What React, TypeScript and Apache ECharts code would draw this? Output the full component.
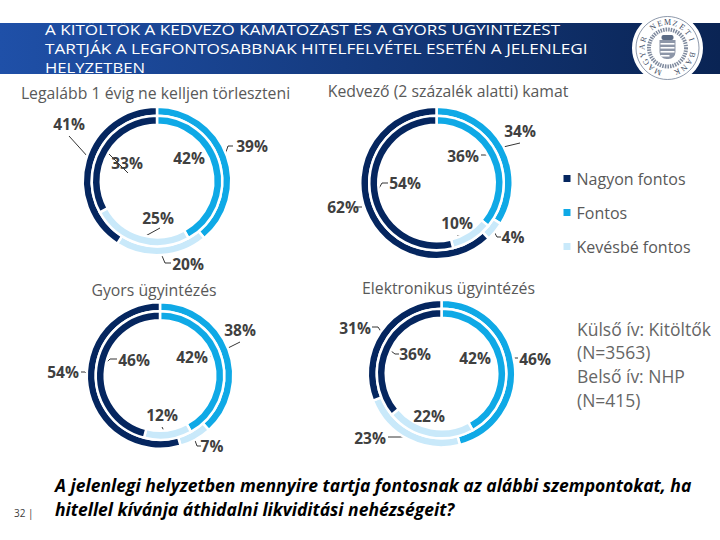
import React, { useEffect, useRef } from "react";
import * as echarts from "echarts";

const categories = ["Fontos", "Kevésbé fontos", "Nagyon fontos"];
const legendOrder = ["Nagyon fontos", "Fontos", "Kevésbé fontos"];
const COLORS = ["#0FA9E6", "#C9E9FA", "#05265F"];

const chartTitles = [
  "Legalább 1 évig ne kelljen törleszteni",
  "Kedvező (2 százalék alatti) kamat",
  "Gyors ügyintézés",
  "Elektronikus ügyintézés",
];
const outerValues = [
  [39, 20, 41],
  [34, 4, 62],
  [38, 7, 54],
  [46, 23, 31],
];
const innerValues = [
  [42, 25, 33],
  [36, 10, 54],
  [42, 12, 46],
  [42, 22, 36],
];

const titleLines = [
  "A KITÖLTŐK A KEDVEZŐ KAMATOZÁST ÉS A GYORS ÜGYINTÉZÉST",
  "TARTJÁK A LEGFONTOSABBNAK HITELFELVÉTEL ESETÉN A JELENLEGI",
  "HELYZETBEN",
];
const noteLines = ["Külső ív: Kitöltők", "(N=3563)", "Belső ív: NHP", "(N=415)"];
const questionLines = [
  "A jelenlegi helyzetben mennyire tartja fontosnak az alábbi szempontokat, ha",
  "hitellel kívánja áthidalni likviditási nehézségeit?",
];
const pageLabel = "32 |";
const sealText = "MAGYAR NEMZETI BANK";

// layout of each doughnut
const centers: [number, number][] = [
  [157, 181],
  [436.5, 183],
  [160, 375.5],
  [441.5, 373.5],
];
const outerRadius = [73, 75, 72, 72.5];

// label anchor (centre) and leader line for [ring][slice] per doughnut
type Lab = { x: number; y: number; line: number[][] };
const outerLabels: Lab[][] = [
  [
    { x: 252, y: 146, line: [[224, 158], [228, 146], [233, 146]] },
    { x: 188, y: 264, line: [[160, 251], [165, 263], [171, 263]] },
    { x: 69, y: 124, line: [[88, 157], [69, 136], [69, 136]] },
  ],
  [
    { x: 520, y: 131, line: [[499, 148], [520, 143], [520, 143]] },
    { x: 513, y: 237, line: [[492, 228], [497, 237], [501, 237]] },
    { x: 343, y: 207, line: [[362, 207], [357, 207], [357, 207]] },
  ],
  [
    { x: 240, y: 330, line: [[224, 350], [240, 342], [240, 342]] },
    { x: 212, y: 446, line: [[193, 435], [197, 446], [201, 446]] },
    { x: 63, y: 372, line: [[88, 375], [85, 372], [81, 372]] },
  ],
  [
    { x: 535, y: 359, line: [[510, 365], [512, 358], [518, 358]] },
    { x: 370, y: 438, line: [[412, 436], [400, 437], [388, 437]] },
    { x: 355, y: 328, line: [[382, 333], [378, 327], [372, 327]] },
  ],
];
const innerLabels: Lab[][] = [
  [
    { x: 189, y: 158, line: [[216, 166], [212, 157], [207, 157]] },
    { x: 158, y: 218, line: [[140, 239], [160, 228], [160, 228]] },
    { x: 127, y: 163, line: [[108, 153], [128, 173], [128, 173]] },
  ],
  [
    { x: 463, y: 156, line: [[493, 158], [488, 155], [481, 155]] },
    { x: 457, y: 223, line: [[457, 236], [470, 235], [470, 235]] },
    { x: 405, y: 183, line: [[378, 190], [382, 183], [388, 183]] },
  ],
  [
    { x: 192, y: 357, line: [[217, 362], [214, 356], [210, 356]] },
    { x: 162, y: 415, line: [[166, 435], [162, 427], [162, 427]] },
    { x: 134, y: 360, line: [[103, 366], [110, 359], [117, 359]] },
  ],
  [
    { x: 475, y: 358, line: [[501, 366], [498, 356], [493, 356]] },
    { x: 429, y: 416, line: [[429, 433], [429, 428], [429, 428]] },
    { x: 415, y: 354, line: [[391, 351], [395, 354], [399, 354]] },
  ],
];

function ringSeries(i: number, values: number[], labels: Lab[], radius: [number, number]) {
  return {
    type: "pie",
    center: centers[i],
    radius,
    startAngle: 90,
    clockwise: true,
    silent: true,
    itemStyle: { borderColor: "#ffffff", borderWidth: 2.5 },
    label: {
      show: true,
      position: "outside",
      formatter: "{c}%",
      fontFamily: "Open Sans",
      fontSize: 15.5,
      fontWeight: "bold",
      color: "#404040",
      overflow: "none",
      width: 60,
    },
    labelLine: { show: true, lineStyle: { color: "#000000", width: 0.8 } },
    labelLayout: (p: any) => {
      const lab = labels[p.dataIndex];
      return {
        x: lab.x,
        y: lab.y,
        align: "center",
        verticalAlign: "middle",
        labelLinePoints: lab.line,
      };
    },
    data: values.map((v, k) => ({
      name: categories[k],
      value: v,
      itemStyle: { color: COLORS[k] },
    })),
  };
}

export default function App() {
  const ref = useRef<HTMLDivElement>(null);
  useEffect(() => {
    if (!ref.current) return;
    const chart = echarts.init(ref.current, undefined, { renderer: "svg" });
    const series: any[] = [];
    centers.forEach((_, i) => {
      const R = outerRadius[i];
      series.push(ringSeries(i, outerValues[i], outerLabels[i], [R - 7.75, R + 1.25]));
      series.push(ringSeries(i, innerValues[i], innerLabels[i], [R - 16.75, R - 7.75]));
    });

    const sx = 667.5;
    const sy = 48;
    const seal: any[] = [
      { type: "circle", shape: { cx: sx, cy: sy, r: 35.5 }, style: { fill: "#fff" } },
      { type: "circle", shape: { cx: sx, cy: sy, r: 31.5 }, style: { fill: "none", stroke: "#5b6b85", lineWidth: 0.7 } },
      { type: "circle", shape: { cx: sx, cy: sy, r: 18.5 }, style: { fill: "none", stroke: "#7f8a9e", lineWidth: 4, lineDash: [1.5, 1] } },
      { type: "rect", shape: { x: sx - 8, y: sy - 8, width: 16, height: 19, r: [0, 0, 7, 7] }, style: { fill: "#8d96a8" } },
      { type: "rect", shape: { x: sx - 6, y: sy - 13, width: 12, height: 5, r: 2 }, style: { fill: "#5b6b85" } },
      ...[0, 1, 2, 3].map((k) => ({
        type: "rect",
        shape: { x: sx - 7, y: sy - 5 + k * 4, width: 14 - (k === 3 ? 5 : 0), height: 1.6 },
        style: { fill: "#ffffff" },
      })),
    ];
    const chars = sealText.split("");
    chars.forEach((c, k) => {
      // start bottom-left, run clockwise over the top to bottom-right
      const a = (-158 + (k * 316) / (chars.length - 1)) * (Math.PI / 180);
      seal.push({
        type: "text",
        x: sx + 25.5 * Math.sin(a),
        y: sy - 25.5 * Math.cos(a),
        rotation: -a,
        style: { text: c, fill: "#3c4a63", font: "8px 'Liberation Serif'", align: "center", verticalAlign: "middle" },
      });
    });

    chart.setOption({
      animation: false,
      backgroundColor: "#ffffff",
      title: chartTitles.map((t, i) => ({
        text: t,
        left: [150.5, 443, 149, 443.5][i],
        top: [80, 78, 277, 275][i],
        textAlign: "center",
        textStyle: {
          fontFamily: "Open Sans",
          fontSize: 15.8,
          fontWeight: "normal",
          color: "#595959",
        },
      })),
      legend: {
        orient: "vertical",
        left: 556.5,
        top: 165.5,
        itemWidth: 9,
        itemHeight: 9,
        itemGap: 18,
        icon: "rect",
        selectedMode: false,
        data: legendOrder,
        textStyle: { fontFamily: "Open Sans", fontSize: 16, color: "#595959" },
      },
      series,
      graphic: [
        {
          type: "rect",
          z: -1,
          shape: { x: 0, y: 23, width: 720, height: 51 },
          style: {
            fill: new echarts.graphic.LinearGradient(0, 0, 1, 0, [
              { offset: 0, color: "#1F50A8" },
              { offset: 1, color: "#0A2454" },
            ]),
          },
        },
        ...titleLines.map((t, i) => ({
          type: "text",
          x: 45,
          y: [29, 48, 67][i],
          scaleX: [1.139, 1.145, 1.11][i],
          style: {
            text: t,
            fill: "#ffffff",
            font: "15px 'Open Sans'",
            verticalAlign: "middle",
          },
        })),
        ...seal,
        ...noteLines.map((t, i) => ({
          type: "text",
          x: 577,
          y: [329, 352, 376, 400][i],
          style: { text: t, fill: "#666666", font: "17.5px 'Open Sans'", verticalAlign: "middle" },
        })),
        ...questionLines.map((t, i) => ({
          type: "text",
          x: 55,
          y: [485, 509][i],
          style: {
            text: t,
            fill: "#000000",
            font: "italic bold 17.5px 'Open Sans'",
            verticalAlign: "middle",
          },
        })),
        {
          type: "text",
          x: 14,
          y: 513,
          style: { text: pageLabel, fill: "#404040", font: "10px 'Open Sans'", verticalAlign: "middle" },
        },
      ],
    });
    return () => chart.dispose();
  }, []);
  return (
    <div
      ref={ref}
      style={{ width: 720, height: 540, position: "fixed", left: 0, top: 0 }}
    />
  );
}
